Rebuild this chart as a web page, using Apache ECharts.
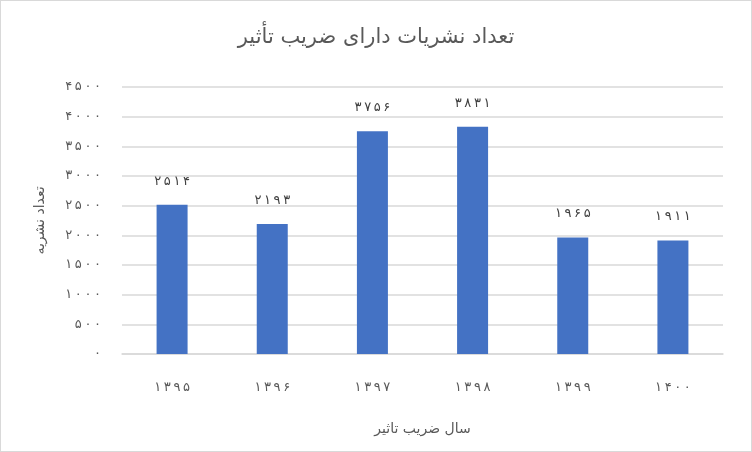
<!DOCTYPE html>
<html>
<head>
<meta charset="utf-8">
<script src="https://cdn.jsdelivr.net/npm/echarts@6/dist/echarts.min.js"></script>
<style>
    html, body {margin:0;padding:0;background:#fff;}
    #chart {width:750px;height:450px;border:1px solid #d9d9d9;}
</style>
</head>
<body>
<div id="chart"></div>
<script>
    // سال‌ها و تعداد نشریات
    var years = ['۱۳۹۵', '۱۳۹۶', '۱۳۹۷', '۱۳۹۸', '۱۳۹۹', '۱۴۰۰'];
    var counts = [2514, 2193, 3756, 3831, 1965, 1911];

    var faDigits = '۰۱۲۳۴۵۶۷۸۹';
    // ارقام فارسی با فاصله‌ی باریک، مثل نمودار اکسل
    var toFa = function (n) {
        return String(n).replace(/[0-9]/g, function (d) { return faDigits[+d]; }).split('').join('\u2009');
    };

    var font = 'DejaVu Sans, sans-serif';
    var chart = echarts.init(document.getElementById('chart'));
    chart.setOption({
        animation: false,
        textStyle: {fontFamily: font},
        title: {
            text: 'تعداد نشریات دارای ضریب تأثیر',
            left: 'center',
            top: 21,
            textStyle: {fontSize: 21, fontWeight: 'normal', color: '#595959', fontFamily: font}
        },
        grid: {left: 121, right: 28, top: 86, bottom: 97},
        xAxis: {
            type: 'category',
            data: years,
            name: 'سال ضریب تاثیر',
            nameLocation: 'middle',
            nameGap: 68,
            nameTextStyle: {fontSize: 14, color: '#595959'},
            axisLine: {lineStyle: {color: '#d9d9d9', width: 1.5}},
            axisTick: {show: false},
            axisLabel: {fontSize: 13, color: '#595959', margin: 27, formatter: function (v) { return v.split('').join('\u2009'); }}
        },
        yAxis: {
            type: 'value',
            min: 0,
            max: 4500,
            interval: 500,
            name: 'تعداد نشریه',
            nameLocation: 'middle',
            nameGap: 75,
            nameRotate: 90,
            nameTextStyle: {fontSize: 14, color: '#595959'},
            axisLine: {show: false},
            axisTick: {show: false},
            splitLine: {lineStyle: {color: '#d9d9d9', width: 1.5}},
            axisLabel: {fontSize: 13, color: '#595959', margin: 21, formatter: toFa}
        },
        series: [{
            type: 'bar',
            data: counts,
            barWidth: 31,
            itemStyle: {color: '#4472c4'},
            label: {
                show: true,
                position: 'top',
                distance: 17,
                fontSize: 13,
                color: '#404040',
                formatter: function (p) { return toFa(p.value); }
            }
        }]
    });
</script>
</body>
</html>
